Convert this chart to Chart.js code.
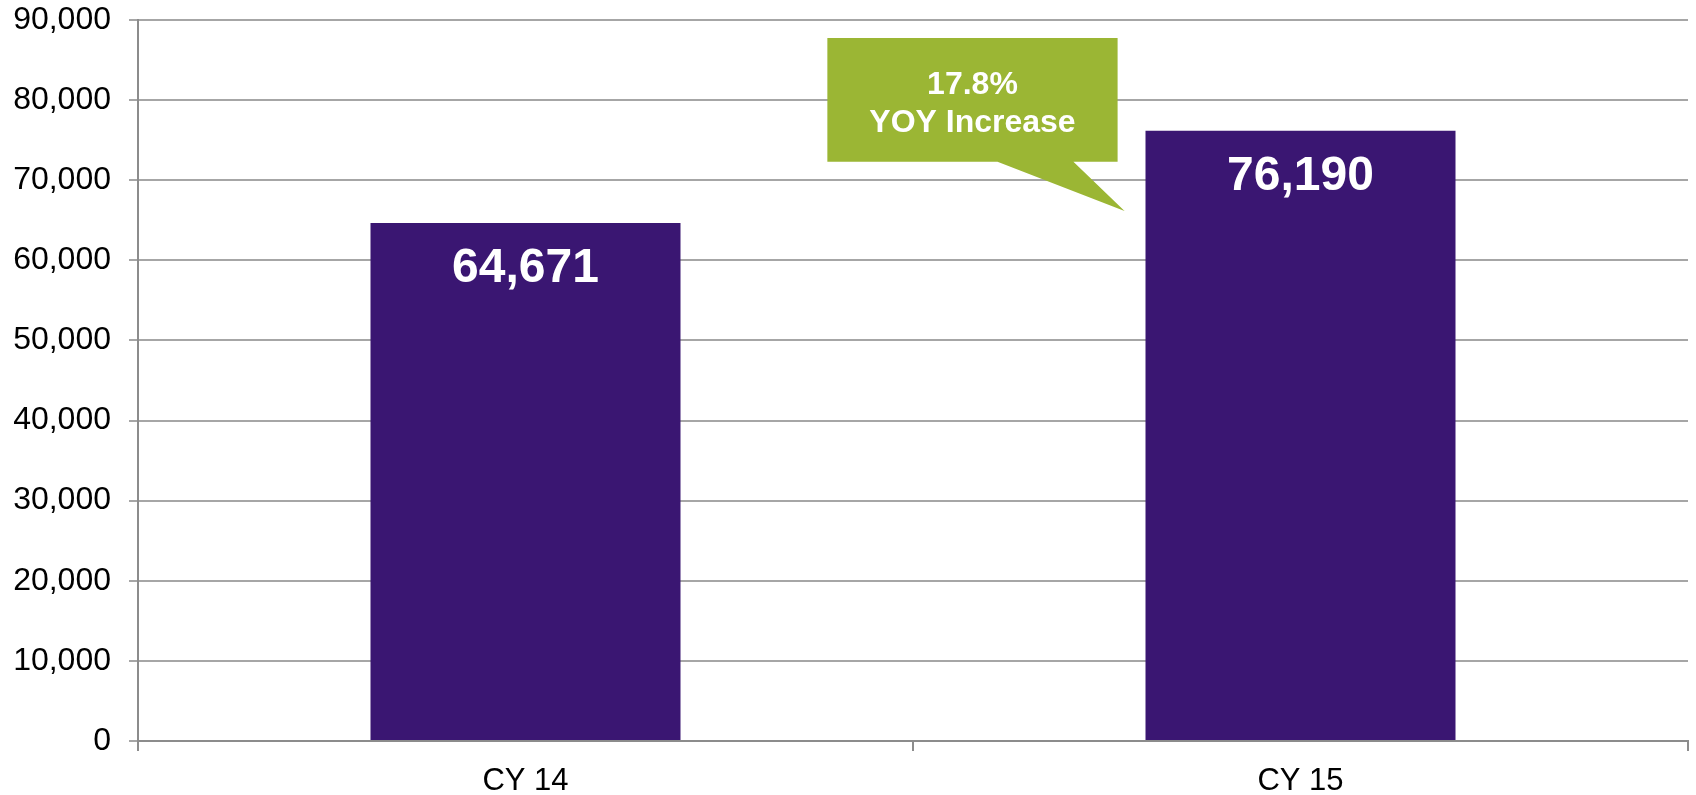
<!DOCTYPE html>
<html>
<head>
<meta charset="utf-8">
<script src="https://cdn.jsdelivr.net/npm/chart.js@4"></script>
<style>
html,body{margin:0;padding:0;background:#fff;}
#wrap{position:relative;width:1696px;height:795px;}
</style>
</head>
<body>
<div id="wrap"><canvas id="c" width="1696" height="795"></canvas></div>
<script>
const categories = ["CY 14", "CY 15"];
const values = [64671, 76190];
const calloutLines = ["17.8%", "YOY Increase"];

const FONT = "'Liberation Sans', Arial, sans-serif";

const barLabels = {
  id: 'barLabels',
  afterDatasetsDraw(chart) {
    const ctx = chart.ctx;
    const meta = chart.getDatasetMeta(0);
    ctx.save();
    ctx.fillStyle = '#ffffff';
    ctx.font = "bold 48px " + FONT;
    ctx.textAlign = 'center';
    ctx.textBaseline = 'middle';
    meta.data.forEach((bar, i) => {
      ctx.fillText(values[i].toLocaleString('en-US'), bar.x, bar.y + 46);
    });
    ctx.restore();
  }
};

const callout = {
  id: 'callout',
  afterDatasetsDraw(chart) {
    const ctx = chart.ctx;
    const xs = chart.scales.x, ys = chart.scales.y;
    const L = xs.getPixelForValue(0.3895), R = xs.getPixelForValue(0.764);
    const T = ys.getPixelForValue(87750), B = ys.getPixelForValue(72300);
    const b1 = xs.getPixelForValue(0.609), b2 = xs.getPixelForValue(0.707);
    const tx = xs.getPixelForValue(0.773), ty = ys.getPixelForValue(66150);
    ctx.save();
    ctx.fillStyle = '#9bb634';
    ctx.beginPath();
    ctx.moveTo(L, T); ctx.lineTo(R, T); ctx.lineTo(R, B);
    ctx.lineTo(b2, B); ctx.lineTo(tx, ty); ctx.lineTo(b1, B);
    ctx.lineTo(L, B); ctx.closePath();
    ctx.fill();
    ctx.fillStyle = '#ffffff';
    ctx.font = "bold 32px " + FONT;
    ctx.textAlign = 'center';
    ctx.textBaseline = 'middle';
    const cx = (L + R) / 2;
    ctx.fillText(calloutLines[0], cx, T + 47);
    ctx.fillText(calloutLines[1], cx, T + 85);
    ctx.restore();
  }
};

new Chart(document.getElementById('c'), {
  type: 'bar',
  data: {
    labels: categories,
    datasets: [{
      data: values,
      backgroundColor: '#3a1672',
      borderWidth: 0,
      barPercentage: 0.4,
      categoryPercentage: 1.0
    }]
  },
  options: {
    responsive: false,
    animation: false,
    devicePixelRatio: 1,
    layout: { padding: { top: 20, right: 8, left: 0, bottom: 0 } },
    plugins: { legend: { display: false }, tooltip: { enabled: false } },
    scales: {
      y: {
        min: 0, max: 90000,
        ticks: {
          stepSize: 10000,
          color: '#000',
          font: { family: FONT, size: 32 },
          padding: 18,
          callback: v => v.toLocaleString('en-US')
        },
        grid: { color: '#a6a6a6', lineWidth: 2, tickLength: 9, drawTicks: true },
        border: { color: '#8c8c8c', width: 2 },
        afterFit(s) { s.width = 138; s.paddingTop = 0; s.paddingBottom = 0; }
      },
      x: {
        ticks: { color: '#000', font: { family: FONT, size: 31 }, padding: 12 },
        grid: { drawOnChartArea: false, drawTicks: true, tickLength: 10, color: '#8c8c8c', lineWidth: 2 },
        border: { color: '#8c8c8c', width: 2 },
        afterFit(s) { s.height = 54; s.paddingLeft = 0; s.paddingRight = 0; }
      }
    }
  },
  plugins: [barLabels, callout]
});
</script>
</body>
</html>
